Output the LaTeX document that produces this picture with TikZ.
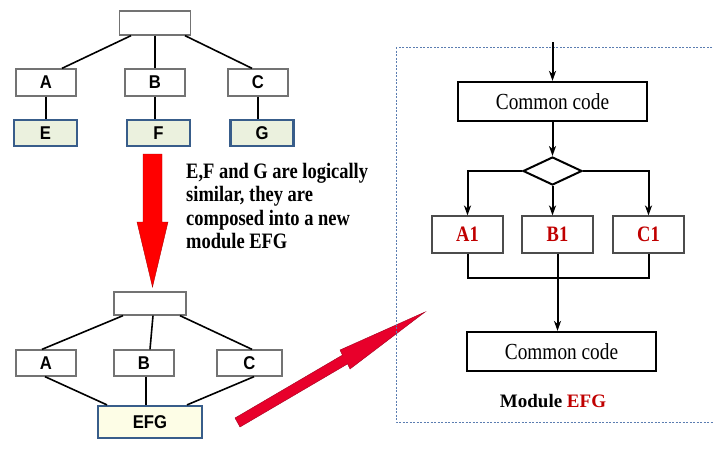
\documentclass[tikz,border=0pt]{standalone}
\usepackage{fontspec}
\setmainfont{Liberation Serif}
\newfontfamily\tallserif[FakeStretch=0.84]{Liberation Serif}
\newfontfamily\boxfont[FakeStretch=0.9]{Liberation Sans}
\usetikzlibrary{positioning}
\usetikzlibrary{shapes.geometric}
\usetikzlibrary{calc}
\usetikzlibrary{arrows.meta}
\definecolor{box-blue}{HTML}{385D8A}
\definecolor{box-green}{HTML}{EBF1DE}
\definecolor{box-cream}{HTML}{FDFDE6}
\definecolor{frame-blue}{HTML}{5B7DB1}
\definecolor{label-red}{HTML}{C00000}
\definecolor{arrow-red}{HTML}{E8002B}

\begin{document}
\begin{tikzpicture}[x=1pt, y=-1pt,
  treebox/.style={draw=black!55, line width=1.3pt, fill=white, inner sep=0pt, font=\boxfont\bfseries\fontsize{18.5}{20}\selectfont},
  newbox/.style={treebox, draw=box-blue, line width=2.2pt, fill=box-green},
  treeline/.style={line width=1.6pt},
  codebox/.style={draw, line width=2.2pt, minimum width=189, minimum height=39, inner sep=0pt, font=\tallserif\fontsize{23}{25}\selectfont},
  partbox/.style={draw=black!70, line width=1.1pt, minimum width=71, minimum height=37, inner sep=0pt, text=label-red, font=\tallserif\bfseries\fontsize{22}{24}\selectfont},
  flow/.style={line width=2pt, -{Stealth[length=10pt, width=7pt, inset=3pt]}}]
\useasboundingbox (0,0) rectangle (713,455);

% tree before
\node[treebox, minimum width=71, minimum height=24] (root1) at (155,23) {};
\node[treebox, minimum width=60, minimum height=27] (a1) at (46,82.5) {A};
\node[treebox, minimum width=60, minimum height=27] (b1) at (155,82.5) {B};
\node[treebox, minimum width=60, minimum height=27] (c1) at (258,82.5) {C};
\node[newbox, minimum width=63, minimum height=26] (e) at (45.5,133) {E};
\node[newbox, minimum width=63, minimum height=26] (f) at (158.5,133) {F};
\node[newbox, minimum width=63, minimum height=26] (g) at (262,133) {G};
\draw[treeline] ([xshift=-24]root1.south) -- ([xshift=16]a1.north);
\draw[treeline] (root1.south) -- (root1.south |- b1.north);
\draw[treeline] ([xshift=30]root1.south) -- ([xshift=-6]c1.north);
\draw[treeline] (a1) -- (a1 |- e.north);
\draw[treeline] (b1) -- (b1 |- f.north);
\draw[treeline] (c1) -- (c1 |- g.north);

% red arrow down
\fill[red, draw=red!70!black, line width=0.4pt] (143,154) -- (162,154) -- (162,222) -- (168,222)
  -- (152.5,287) -- (137,222) -- (143,222) -- cycle;
\node[align=left, anchor=north west, inner sep=0pt, font=\tallserif\bfseries\fontsize{22}{23.3}\selectfont] (note) at (186,163)
  {E,F and G are logically\\similar, they are\\composed into a new\\module EFG};

% tree after
\node[treebox, minimum width=72, minimum height=23] (root2) at (150,303.5) {};
\node[treebox, minimum width=60, minimum height=26] (a2) at (46,363) {A};
\node[treebox, minimum width=60, minimum height=26] (b2) at (144,363) {B};
\node[treebox, minimum width=65, minimum height=26] (c2) at (249.5,363) {C};
\node[newbox, fill=box-cream, minimum width=104, minimum height=32] (efg) at (150,422) {EFG};
\draw[treeline] ([xshift=-27]root2.south) -- ([xshift=-4]a2.north);
\draw[treeline] ([xshift=3]root2.south) -- ([xshift=6]b2.north);
\draw[treeline] ([xshift=30]root2.south) -- ([xshift=2.5]c2.north);
\draw[treeline] ([xshift=-1]a2.south) -- ([xshift=-43]efg.north);
\draw[treeline] ([xshift=2]b2.south) -- ([xshift=-4]efg.north);
\draw[treeline] ([xshift=4.5]c2.south) -- ([xshift=37]efg.north);

% red arrow to the module
\fill[arrow-red, draw=arrow-red!70!black, line width=0.4pt] (235,418) -- (342.4,355.1) -- (340,350) -- (425,312)
  -- (350,369) -- (347.6,363.9) -- (240,427) -- cycle;

% module EFG
\draw[frame-blue, line width=0.8pt, dash pattern=on 2pt off 1.5pt] (396,47) rectangle (725,422);
\coordinate (entry) at (552.5,42);
\node[codebox] (cc1) at (552.5,101.5) {Common code};
\node[draw, diamond, line width=2pt, minimum width=59, minimum height=28, inner sep=0pt] (choice) at (552.5,171) {};
\node[partbox] (p1) at (467.5,234.5) {A1};
\node[partbox] (p2) at (557.5,234.5) {B1};
\node[partbox] (p3) at (648.5,234.5) {C1};
\node[codebox] (cc2) at (561.5,351.5) {Common code};
\coordinate (join) at (557.5,278);
\draw[flow] (entry) -- (cc1);
\draw[flow] (cc1) -- (choice);
\draw[flow] (choice.west) -| (p1);
\draw[flow] (choice.south) -- (choice.south |- p2.north);
\draw[flow] (choice.east) -| (p3);
\draw[flow, -] (p1) |- (join) -| (p3);
\draw[flow] (p2) -- (p2 |- cc2.north);
\node[font=\bfseries\fontsize{19}{22}\selectfont] (title) at (553,401) {Module \textcolor{label-red}{EFG}};
\end{tikzpicture}
\end{document}
